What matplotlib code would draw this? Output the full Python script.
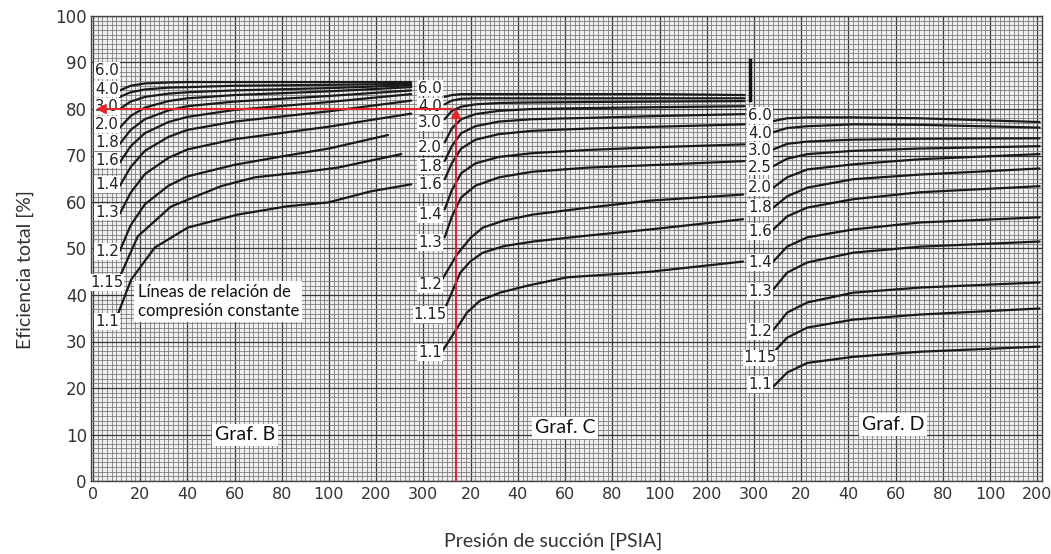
import matplotlib
matplotlib.use('Agg')
import matplotlib.pyplot as plt
from matplotlib.ticker import MultipleLocator, FixedLocator

# ---------------- data ----------------
x_tick_labels = ['0', '20', '40', '60', '80', '100', '200', '300',
                 '20', '40', '60', '80', '100', '200', '300',
                 '20', '40', '60', '80', '100', '200']
y_ticks = [0, 10, 20, 30, 40, 50, 60, 70, 80, 90, 100]

# Graf. B  (x in tick-index units)
ratios_B = ['6.0', '4.0', '3.0', '2.0', '1.8', '1.6', '1.4', '1.3', '1.2', '1.15', '1.1']
label_y_B = [88.3, 84.3, 80.5, 76.7, 72.8, 69.0, 63.8, 57.8, 49.4, 42.7, 34.3]
xB = [0.57, 0.8, 1.1, 1.6, 2.0, 3.0, 5.0, 6.74]
yB_60 = [84.0, 85.0, 85.5, 85.7, 85.8, 85.8, 85.8, 85.8]
yB_40 = [82.6, 83.6, 84.2, 84.6, 84.7, 85.0, 85.2, 85.4]
yB_30 = [80.0, 81.6, 82.6, 83.3, 83.6, 84.0, 84.5, 85.1]
yB_20 = [76.0, 78.5, 80.3, 81.7, 82.3, 83.0, 83.8, 84.7]
yB_18 = [72.5, 75.5, 77.8, 79.7, 80.6, 81.6, 82.8, 84.0]
yB_16 = [68.5, 72.0, 74.8, 77.2, 78.3, 79.8, 81.5, 83.2]
yB_14 = [63.5, 67.5, 71.0, 74.0, 75.5, 77.3, 79.5, 81.8]
yB_13 = [57.5, 62.0, 66.0, 69.5, 71.3, 73.5, 76.2, 79.0]
xB_12 = [0.57, 0.8, 1.1, 1.6, 2.0, 3.0, 4.0, 5.0, 6.25]
yB_12 = [49.5, 55.0, 59.5, 63.5, 65.5, 68.0, 69.8, 71.5, 74.4]
xB_115 = [0.53, 0.95, 1.65, 2.71, 3.43, 4.5, 5.19, 6.53]
yB_115 = [43.0, 52.6, 59.0, 63.4, 65.3, 66.5, 67.4, 70.3]
xB_11 = [0.47, 0.81, 1.31, 2.01, 3.07, 4.13, 4.98, 5.89, 6.74]
yB_11 = [34.3, 43.3, 50.2, 54.5, 57.3, 59.1, 59.9, 62.3, 63.8]

# Graf. C
ratios_C = ['6.0', '4.0', '3.0', '2.0', '1.8', '1.6', '1.4', '1.3', '1.2', '1.15', '1.1']
label_y_C = [84.5, 80.6, 77.0, 71.8, 67.7, 63.8, 57.3, 51.3, 42.2, 35.8, 27.6]
xC = [7.45, 7.6, 7.8, 8.1, 8.6, 9.3, 10.5, 12.0, 13.8]
yC_60 = [82.6, 83.0, 83.2, 83.2, 83.2, 83.2, 83.2, 83.2, 83.0]
yC_40 = [81.0, 81.8, 82.2, 82.3, 82.3, 82.3, 82.3, 82.3, 82.3]
yC_30 = [77.8, 79.6, 80.5, 81.0, 81.3, 81.4, 81.5, 81.6, 81.7]
yC_20 = [72.8, 75.8, 77.8, 78.9, 79.6, 80.0, 80.2, 80.4, 80.6]
yC_18 = [68.8, 72.0, 74.8, 76.3, 77.3, 77.8, 78.1, 78.5, 78.9]
yC_16 = [64.9, 68.3, 71.5, 73.4, 74.6, 75.3, 75.8, 76.2, 76.7]
yC_14 = [58.4, 62.5, 66.2, 68.3, 69.7, 70.5, 71.2, 71.8, 72.4]
yC_13 = [52.4, 56.8, 61.0, 63.5, 65.3, 66.5, 67.4, 68.0, 68.8]
xC_12 = [7.36, 7.71, 8.0, 8.26, 8.7, 9.32, 10.5, 11.8, 13.77]
yC_12 = [42.7, 48.7, 52.3, 54.5, 56.0, 57.3, 58.8, 60.3, 61.6]
xC_115 = [7.42, 7.78, 8.0, 8.26, 8.7, 9.32, 10.5, 11.8, 13.77]
yC_115 = [36.2, 44.8, 47.3, 49.1, 50.5, 51.5, 52.8, 54.1, 56.3]
xC_11 = [7.42, 7.92, 8.2, 8.62, 9.2, 10.04, 11.8, 13.77]
yC_11 = [28.2, 36.2, 38.8, 40.5, 42.0, 43.8, 45.0, 47.2]

# Graf. D
ratios_D = ['6.0', '4.0', '3.0', '2.5', '2.0', '1.8', '1.6', '1.4', '1.3', '1.2', '1.15', '1.1']
label_y_D = [78.6, 74.8, 71.1, 67.5, 63.1, 58.8, 53.7, 47.0, 40.7, 32.1, 26.5, 20.7]
xD = [14.41, 14.70, 15.13, 16.10, 17.52, 20.05]
yD_60 = [77.4, 78.0, 78.2, 78.2, 78.0, 77.2]
yD_40 = [75.0, 75.9, 76.3, 76.7, 76.6, 76.0]
yD_30 = [71.3, 72.5, 73.0, 73.4, 73.6, 73.7]
yD_25 = [67.7, 69.3, 70.3, 71.0, 71.5, 72.0]
yD_20 = [63.1, 65.3, 67.0, 68.1, 69.2, 70.3]
yD_18 = [58.8, 61.2, 63.1, 64.9, 65.9, 67.2]
yD_16 = [54.1, 56.9, 58.8, 60.6, 62.1, 63.4]
yD_14 = [47.2, 50.4, 52.4, 54.1, 55.6, 56.7]
yD_13 = [41.2, 44.8, 47.0, 49.1, 50.4, 51.5]
yD_12 = [32.5, 36.2, 38.4, 40.5, 41.6, 42.7]
yD_115 = [27.6, 30.8, 33.0, 34.7, 35.8, 37.1]
yD_11 = [20.3, 23.3, 25.4, 26.7, 27.8, 28.9]

curves_B = [(xB, yB_60), (xB, yB_40), (xB, yB_30), (xB, yB_20), (xB, yB_18), (xB, yB_16),
            (xB, yB_14), (xB, yB_13), (xB_12, yB_12), (xB_115, yB_115), (xB_11, yB_11)]
curves_C = [(xC, yC_60), (xC, yC_40), (xC, yC_30), (xC, yC_20), (xC, yC_18), (xC, yC_16),
            (xC, yC_14), (xC, yC_13), (xC_12, yC_12), (xC_115, yC_115), (xC_11, yC_11)]
curves_D = [(xD, yD_60), (xD, yD_40), (xD, yD_30), (xD, yD_25), (xD, yD_20), (xD, yD_18),
            (xD, yD_16), (xD, yD_14), (xD, yD_13), (xD, yD_12), (xD, yD_115), (xD, yD_11)]

# ---------------- figure ----------------
W, H = 1051, 554
fig = plt.figure(figsize=(W / 100, H / 100), dpi=100)
ax = fig.add_axes([91 / W, (H - 481) / H, (1042 - 91) / W, (481 - 16) / H])
ax.set_facecolor('#efefef')
ax.set_xlim(-0.04, 20.1)
ax.set_ylim(0, 100)

ax.xaxis.set_major_locator(FixedLocator(range(len(x_tick_labels))))
ax.set_xticklabels(x_tick_labels)
ax.set_yticks(y_ticks)
ax.xaxis.set_minor_locator(MultipleLocator(0.1))
ax.yaxis.set_minor_locator(MultipleLocator(1))
ax.grid(which='minor', color='#7c7c7c', lw=0.6)
ax.grid(which='major', color='#383838', lw=0.9)
ax.set_axisbelow(True)
ax.tick_params(which='both', length=0)
ax.tick_params(axis='x', labelsize=11.5, pad=4, labelcolor='#333333')
ax.tick_params(axis='y', labelsize=12, pad=3, labelcolor='#333333')
for lab in ax.get_xticklabels() + ax.get_yticklabels():
    lab.set_family('DejaVu Sans')
for s in ax.spines.values():
    s.set_color('#444444')
    s.set_linewidth(1.0)

label_box = dict(boxstyle='square,pad=0.05', fc='white', ec='none')

def draw_panel(curves, ratios, label_y, label_x):
    for (xs, ys), r, ly in zip(curves, ratios, label_y):
        ax.plot(xs, ys, color='#1a1a1a', lw=1.6, solid_capstyle='round', zorder=3)
        ax.text(label_x, ly, r, ha='center', va='center', fontsize=10.8,
                family='DejaVu Sans', color='#222222', bbox=label_box, zorder=4)

draw_panel(curves_B, ratios_B, label_y_B, 0.30)
draw_panel(curves_C, ratios_C, label_y_C, 7.14)
draw_panel(curves_D, ratios_D, label_y_D, 14.13)

# panel separator mark
ax.plot([13.92, 13.92], [82.0, 90.5], color='#111111', lw=2.5, zorder=3)

# red guide lines
red = '#e3262b'
ax.annotate('', xy=(0.06, 80), xytext=(7.62, 80),
            arrowprops=dict(arrowstyle='-|>', color=red, lw=1.5, mutation_scale=14,
                            shrinkA=0, shrinkB=0), zorder=5)
ax.annotate('', xy=(7.69, 80.2), xytext=(7.69, 0),
            arrowprops=dict(arrowstyle='-|>', color=red, lw=1.5, mutation_scale=14,
                            shrinkA=0, shrinkB=0), zorder=5)

# annotations
text_box = dict(boxstyle='square,pad=0.15', fc='white', ec='none')
ax.text(3.22, 9.9, 'Graf. B', ha='center', va='center', fontsize=14, family='Lato',
        color='#111111', bbox=text_box, zorder=6)
ax.text(10.0, 11.4, 'Graf. C', ha='center', va='center', fontsize=14, family='Lato',
        color='#111111', bbox=text_box, zorder=6)
ax.text(16.95, 12.1, 'Graf. D', ha='center', va='center', fontsize=14, family='Lato',
        color='#111111', bbox=text_box, zorder=6)
ax.text(0.95, 38.6, 'Líneas de relación de\ncompresión constante', ha='left', va='center',
        fontsize=12, family='Lato', color='#111111', linespacing=1.25,
        bbox=dict(boxstyle='square,pad=0.2', fc='white', ec='none'), zorder=6)

fig.text(25 / W, 1 - 270 / H, 'Eficiencia total [%]', rotation=90, ha='center', va='center',
         fontsize=14, family='Lato', color='#333333')
fig.text(553 / W, 1 - 541 / H, 'Presión de succión [PSIA]', ha='center', va='center',
         fontsize=14, family='Lato', color='#333333')

fig.savefig('out.png', dpi=100, facecolor='white')
